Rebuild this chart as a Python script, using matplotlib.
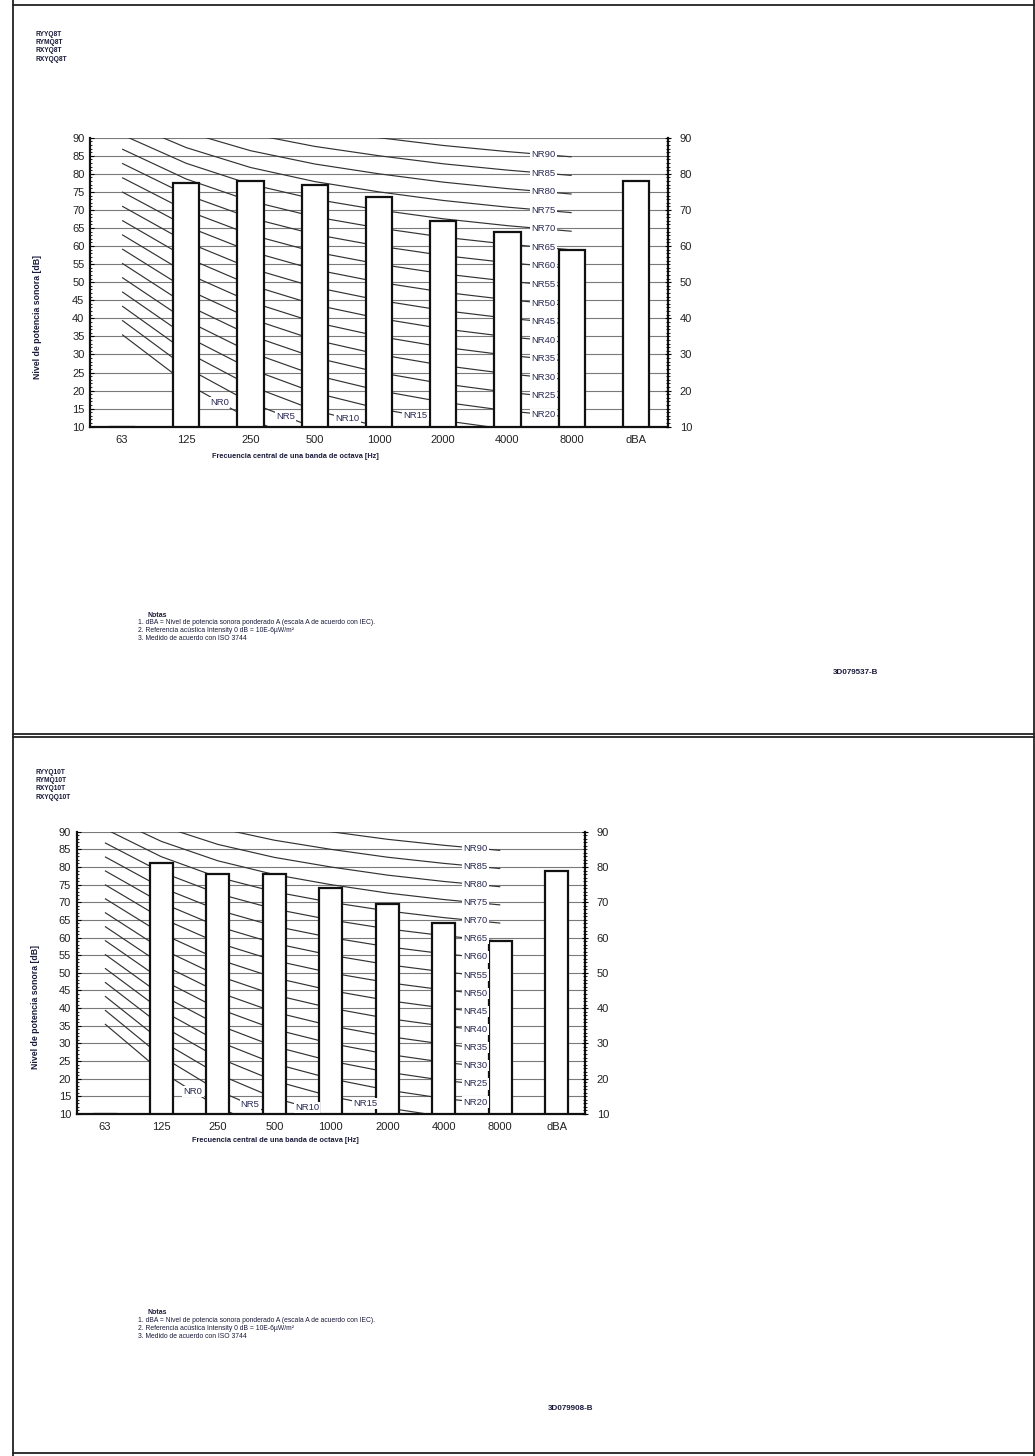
import matplotlib
matplotlib.use('Agg')
import matplotlib.pyplot as plt
import numpy as np
from matplotlib.lines import Line2D
from matplotlib.ticker import MultipleLocator

plt.rcParams['font.family'] = ['Liberation Sans', 'DejaVu Sans']

# Octave band centre frequencies plus the A-weighted total
categories = ['63', '125', '250', '500', '1000', '2000', '4000', '8000', 'dBA']
# Sound power levels in dB (63 Hz band sits on the 10 dB baseline)
levels_8hp = [10, 77.5, 78, 77, 73.5, 67, 64, 59, 78]
levels_10hp = [10, 81, 78, 78, 74, 69.5, 64, 59, 79]

models_8hp = ['RYYQ8T', 'RYMQ8T', 'RXYQ8T', 'RXYQQ8T']
models_10hp = ['RYYQ10T', 'RYMQ10T', 'RXYQ10T', 'RXYQQ10T']
drawing_8hp = '3D079537-B'
drawing_10hp = '3D079908-B'

# Noise Rating curves (ISO R 1996): level = a + b * NR for 63 Hz ... 8 kHz
nr_ratings = list(range(0, 95, 5))
nr_a = [35.5, 22.0, 12.0, 4.8, 0.0, -3.5, -6.1, -8.0]
nr_b = [0.790, 0.870, 0.930, 0.974, 1.000, 1.015, 1.025, 1.030]

notes_title = 'Notas'
notes_lines = [
    '1. dBA = Nivel de potencia sonora ponderado A (escala A de acuerdo con IEC).',
    '2. Referencia acústica Intensity 0 dB = 10E-6µW/m²',
    '3. Medido de acuerdo con ISO 3744',
]

W, H = 1035, 1456
fig = plt.figure(figsize=(W / 100, H / 100), dpi=100)
fig.patch.set_facecolor('white')


def fx(x):
    return x / W


def fy(y):
    return 1 - y / H


def draw_panel(rect_px, levels, nr_low_pos):
    left, top, right, bottom = rect_px
    ax = fig.add_axes([fx(left), fy(bottom), fx(right - left), (bottom - top) / H])
    x = np.arange(len(categories))
    ax.set_xlim(-0.5, len(categories) - 0.5)
    ax.set_ylim(10, 90)

    # horizontal grid every 5 dB
    for g in range(10, 95, 5):
        ax.axhline(g, color='#7a7a7a', lw=0.8, zorder=1)

    # NR curves
    bands = np.arange(len(nr_a))
    for k, nr in enumerate(nr_ratings):
        curve = np.array(nr_a) + np.array(nr_b) * nr
        ax.plot(bands, curve, color='#333333', lw=0.85, zorder=2,
                solid_capstyle='butt', solid_joinstyle='round')
        if nr < 20:
            lx = nr_low_pos[k]
        else:
            lx = 6.56
        ly = np.interp(lx, bands, curve)
        ax.text(lx, ly, f'NR{nr}', fontsize=6.8, ha='center', va='center',
                color='#2a2a55', zorder=5,
                bbox=dict(fc='white', ec='none', pad=0.8))

    # bars
    heights = np.array(levels) - 10
    ax.bar(x, heights, bottom=10, width=0.41, facecolor='white',
           edgecolor='#111111', linewidth=1.6, zorder=3)

    ax.set_xticks(x)
    ax.set_xticklabels(categories, fontsize=8, color='#222222')
    ax.tick_params(axis='x', length=0, pad=6)

    ax.set_yticks(range(10, 95, 5))
    ax.set_yticklabels([str(v) for v in range(10, 95, 5)], fontsize=8,
                       color='#222222')
    ax.yaxis.set_minor_locator(MultipleLocator(1))
    ax.tick_params(axis='y', which='major', direction='in', length=3,
                   width=0.8, pad=4)
    ax.tick_params(axis='y', which='minor', direction='in', length=1.5,
                   width=0.6)

    for s in ['left', 'bottom', 'right']:
        ax.spines[s].set_linewidth(1.6)
        ax.spines[s].set_color('#111111')
    ax.spines['top'].set_visible(False)

    ax2 = ax.twinx()
    ax2.set_ylim(10, 90)
    ax2.set_yticks(range(10, 95, 10))
    ax2.set_yticklabels([str(v) for v in range(10, 95, 10)], fontsize=8,
                        color='#222222')
    ax2.yaxis.set_minor_locator(MultipleLocator(1))
    ax2.tick_params(axis='y', which='major', direction='inout', length=5,
                    width=0.8, pad=6)
    ax2.tick_params(axis='y', which='minor', direction='inout', length=2.5,
                    width=0.6)
    for s in ax2.spines.values():
        s.set_visible(False)
    return ax


def panel_texts(models, header_top, ylab_pos, xlab_pos, notes_top, drawing_pos,
                drawing):
    for i, m in enumerate(models):
        fig.text(fx(36), fy(header_top + i * 8.5), m, fontsize=4.8,
                 fontweight='bold', color='#1a1a3a', ha='left', va='center')
    fig.text(fx(ylab_pos[0]), fy(ylab_pos[1]), 'Nivel de potencia sonora [dB]',
             fontsize=6.3, fontweight='bold', rotation=90, ha='center',
             va='center', color='#1a1a3a')
    fig.text(fx(xlab_pos[0]), fy(xlab_pos[1]),
             'Frecuencia central de una banda de octava [Hz]', fontsize=5.3,
             fontweight='bold', ha='center', va='center', color='#1a1a3a')
    fig.text(fx(147), fy(notes_top), notes_title, fontsize=5.0,
             fontweight='bold', ha='left', va='center', color='#1a1a3a')
    for i, line in enumerate(notes_lines):
        fig.text(fx(138), fy(notes_top + 8.0 * (i + 1)), line, fontsize=4.9,
                 ha='left', va='center', color='#1a1a3a')
    fig.text(fx(drawing_pos[0]), fy(drawing_pos[1]), drawing, fontsize=5.8,
             fontweight='bold', ha='center', va='center', color='#1a1a3a')


draw_panel((90, 137.7, 668, 426.7), levels_8hp, [1.52, 2.54, 3.51, 4.57])
draw_panel((76.7, 831.7, 585, 1114), levels_10hp, [1.56, 2.57, 3.58, 4.61])

panel_texts(models_8hp, 34, (38, 317), (295, 456), 615, (856, 673), drawing_8hp)
panel_texts(models_10hp, 772, (35, 1007), (275, 1141), 1312, (571, 1408),
            drawing_10hp)

# page frames
frame_kw = dict(color='#222222', lw=1.3, transform=fig.transFigure)
fig.add_artist(Line2D([fx(13), fx(13)], [fy(0), fy(H)], **frame_kw))
fig.add_artist(Line2D([fx(1034), fx(1034)], [fy(0), fy(H)], **frame_kw))
fig.add_artist(Line2D([fx(13), fx(W)], [fy(5), fy(5)], **frame_kw))
fig.add_artist(Line2D([fx(13), fx(W)], [fy(734), fy(734)], **frame_kw))
fig.add_artist(Line2D([fx(13), fx(W)], [fy(737), fy(737)], **frame_kw))
fig.add_artist(Line2D([fx(13), fx(W)], [fy(1453), fy(1453)], **frame_kw))

fig.savefig('out.png', dpi=100, facecolor='white')
